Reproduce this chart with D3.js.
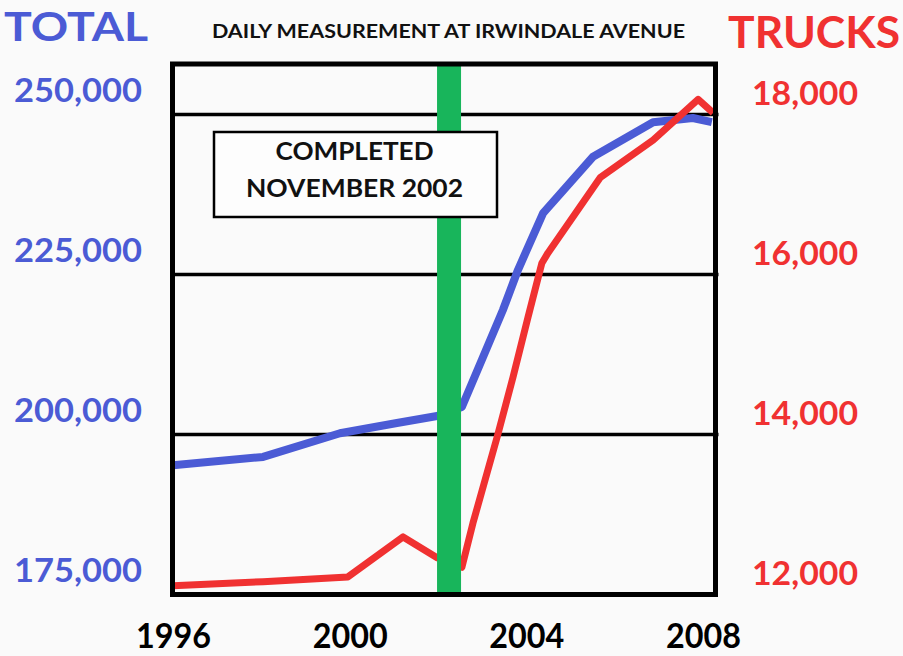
<!DOCTYPE html>
<html>
<head>
<meta charset="utf-8">
<script src="https://cdn.jsdelivr.net/npm/d3@7"></script>
<style>
html,body{margin:0;padding:0;background:#fafafa;}
svg{display:block;}
text{font-family:Lato,"Open Sans",sans-serif;}
</style>
</head>
<body>
<svg id="chart" width="903" height="656"></svg>
<script>
// ---- data ----
const totalYears  = [1996, 1998.04, 1999.78, 2001.07, 2001.98, 2002.54, 2003.02, 2003.47, 2003.81, 2004.38, 2005.51, 2006.87, 2007.77, 2008.2];
const totalValues = [195200, 196500, 200200, 201800, 202900, 204300, 212100, 219450, 225700, 234600, 243400, 248800, 249450, 248800];
const truckYears  = [1996, 1998.04, 1999.96, 2001.21, 2001.98, 2002.54, 2002.79, 2003.34, 2003.7, 2004.04, 2004.35, 2004.49, 2005.67, 2006.87, 2007.89, 2008.23];
const truckValues = [12110, 12160, 12220, 12720, 12460, 12340, 12890, 13970, 14720, 15470, 16140, 16270, 17210, 17680, 18190, 18020];
const xTicks      = [1996, 2000, 2004, 2008];
const totalTicks  = [175000, 200000, 225000, 250000];
const truckTicks  = [12000, 14000, 16000, 18000];
const completedYear = 2002.25;
const titleText = "DAILY MEASUREMENT AT IRWINDALE AVENUE";
const noteLines = ["COMPLETED", "NOVEMBER 2002"];

// ---- layout ----
const BLUE = "#4b5bd5", RED = "#f03131", GREEN = "#18b55b";
const frame = {left:172.5, right:715.5, top:64, bottom:594.5};
const svg = d3.select("#chart");

const x = d3.scaleLinear().domain([1996, 2008]).range([173, 703]);
const yL = d3.scaleLinear().domain([175000, 250000]).range([594.5, 114.5]);
const yR = d3.scaleLinear().domain([12000, 18000]).range([594.5, 114.5]);

svg.append("rect").attr("width",903).attr("height",656).attr("fill","#fafafa");

// gridlines (at total ticks, excluding bottom which is the frame)
svg.append("g").selectAll("line").data(totalTicks.slice(1)).join("line")
  .attr("x1", frame.left).attr("x2", frame.right + 3)
  .attr("y1", d => yL(d)).attr("y2", d => yL(d))
  .attr("stroke","#000").attr("stroke-width",3.5);

// lines
const lineTotal = d3.line().x((d,i)=>x(totalYears[i])).y(d=>yL(d));
const lineTruck = d3.line().x((d,i)=>x(truckYears[i])).y(d=>yR(d));
svg.append("path").attr("d", lineTotal(totalValues)).attr("fill","none")
  .attr("stroke",BLUE).attr("stroke-width",8).attr("stroke-linejoin","round");
svg.append("path").attr("d", lineTruck(truckValues)).attr("fill","none")
  .attr("stroke",RED).attr("stroke-width",7).attr("stroke-linejoin","round");

// completion bar
svg.append("rect").attr("x", x(completedYear)-12).attr("width",24)
  .attr("y", frame.top).attr("height", frame.bottom-frame.top).attr("fill",GREEN);

// note box
svg.append("rect").attr("x",214).attr("y",132).attr("width",283).attr("height",85)
  .attr("fill","#fdfdfd").attr("stroke","#000").attr("stroke-width",2.5);
svg.append("g").selectAll("text").data(noteLines).join("text")
  .attr("x",354.5).attr("y",(d,i)=>160+i*37).attr("text-anchor","middle")
  .attr("font-size",24).attr("font-weight",700).attr("fill","#111")
  .attr("textLength",(d,i)=>i===0?158:217).attr("lengthAdjust","spacingAndGlyphs")
  .text(d=>d);

// frame
svg.append("rect").attr("x",frame.left).attr("y",frame.top)
  .attr("width",frame.right-frame.left).attr("height",frame.bottom-frame.top)
  .attr("fill","none").attr("stroke","#000").attr("stroke-width",5);

// axes
const fmt = d3.format(",");
const axL = svg.append("g").attr("transform","translate(142,0)")
  .call(d3.axisLeft(yL).tickValues(totalTicks).tickFormat(fmt).tickSize(0).tickPadding(0));
axL.select(".domain").remove();
axL.selectAll("text").attr("fill",BLUE).attr("font-size",32).attr("font-weight",700)
  .attr("dy",-13).attr("textLength",128).attr("lengthAdjust","spacingAndGlyphs")
  .attr("font-family","Lato");

const axR = svg.append("g").attr("transform","translate(805,0)")
  .call(d3.axisRight(yR).tickValues(truckTicks).tickFormat(fmt).tickSize(0).tickPadding(0));
axR.select(".domain").remove();
axR.selectAll("text").attr("fill",RED).attr("font-size",32).attr("font-weight",700)
  .attr("text-anchor","middle").attr("dy",-10).attr("textLength",106).attr("lengthAdjust","spacingAndGlyphs")
  .attr("font-family","Lato");

const axB = svg.append("g").attr("transform","translate(0,648)")
  .call(d3.axisBottom(x).tickValues(xTicks).tickFormat(d3.format("d")).tickSize(0).tickPadding(0));
axB.select(".domain").remove();
axB.selectAll("text").attr("fill","#000").attr("font-size",34).attr("font-weight",700)
  .attr("dy",0).attr("textLength",75).attr("lengthAdjust","spacingAndGlyphs")
  .attr("font-family","Lato");
axB.selectAll(".tick text").attr("y",0).attr("dominant-baseline","alphabetic");

// titles
svg.append("text").attr("x",4).attr("y",41).attr("font-size",41).attr("font-weight",700)
  .attr("fill",BLUE).attr("textLength",144).attr("lengthAdjust","spacingAndGlyphs").text("TOTAL");
svg.append("text").attr("x",728).attr("y",48).attr("font-size",43).attr("font-weight",700)
  .attr("fill",RED).attr("textLength",172).attr("lengthAdjust","spacingAndGlyphs").text("TRUCKS");
svg.append("text").attr("x",212).attr("y",38).attr("font-size",19).attr("font-weight",700)
  .attr("fill","#111").attr("textLength",473).attr("lengthAdjust","spacingAndGlyphs").text(titleText);
</script>
</body>
</html>
